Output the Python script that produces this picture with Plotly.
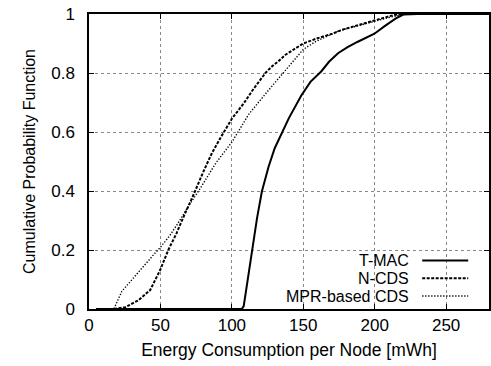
import plotly.graph_objects as go

# ---- data ----
tmac_x = [5, 107, 108.3, 111, 114, 117.6, 121, 125.7, 130, 135, 140, 148.8, 155, 162.7,
          168, 174.3, 181, 188.2, 194, 199.8, 206.7, 214.8, 220, 230, 280]
tmac_y = [0, 0, 0.01, 0.1, 0.2, 0.307, 0.398, 0.482, 0.545, 0.596, 0.648, 0.725, 0.77, 0.806,
          0.838, 0.867, 0.888, 0.906, 0.92, 0.933, 0.958, 0.985, 0.998, 1, 1]

ncds_x = [5, 17, 25.5, 34.7, 42.8, 49.8, 55.5, 61.3, 65.5, 69.4, 73.6, 80, 86, 92, 96.8, 100,
          108.3, 115, 123.5, 128, 132.6, 137.3, 145, 150, 160, 169.7, 178, 188.2, 199.8,
          213.7, 220, 280]
ncds_y = [0, 0, 0.006, 0.03, 0.064, 0.132, 0.2, 0.257, 0.305, 0.345, 0.392, 0.465, 0.528, 0.58,
          0.618, 0.645, 0.697, 0.745, 0.80, 0.822, 0.84, 0.861, 0.885, 0.90, 0.918, 0.932,
          0.948, 0.962, 0.98, 0.997, 1, 1]

mpr_x = [5, 17.4, 23, 30, 37, 46.3, 49.8, 56.7, 62.5, 69.4, 77.1, 88.7, 100.2, 111.8, 125.7,
         136, 146, 150, 158.1, 174.3, 199.8, 211.4, 222, 280]
mpr_y = [0, 0, 0.06, 0.10, 0.14, 0.19, 0.208, 0.25, 0.292, 0.347, 0.403, 0.494, 0.567, 0.66,
         0.742, 0.80, 0.86, 0.88, 0.905, 0.942, 0.975, 0.99, 1, 1]

series_names = ["T-MAC", "N-CDS", "MPR-based CDS"]
x_ticks = [0, 50, 100, 150, 200, 250]
y_ticks = [0, 0.2, 0.4, 0.6, 0.8, 1]
y_tick_text = ["0", "0.2", "0.4", "0.6", "0.8", "1"]

FONT = "Liberation Sans, Arial, Helvetica, sans-serif"

styles = [
    dict(color="black", width=2, dash="solid"),
    dict(color="black", width=2, dash="3px,1.5px"),
    dict(color="black", width=1.4, dash="1.3px,1.7px"),
]

fig = go.Figure()
for name, xs, ys, st in zip(series_names, [tmac_x, ncds_x, mpr_x], [tmac_y, ncds_y, mpr_y], styles):
    fig.add_trace(go.Scatter(x=xs, y=ys, mode="lines", name=name, line=st,
                             showlegend=False))

# legend box (opaque, covers grid) and manual legend entries
shapes = [dict(type="rect", xref="paper", yref="paper", x0=0.445, x1=1.0, y0=0.0, y1=0.193,
               fillcolor="white", line=dict(width=0), layer="between")]
annotations = []
rows_y = [0.164, 0.104, 0.044]
for name, ry, st in zip(series_names, rows_y, styles):
    annotations.append(dict(xref="paper", yref="paper", x=0.8035, y=ry, text=name,
                            showarrow=False, xanchor="right", yanchor="middle",
                            borderpad=0,
                            font=dict(family=FONT, size=16, color="black")))
    shapes.append(dict(type="line", xref="paper", yref="paper", x0=0.833, x1=0.948,
                       y0=ry, y1=ry, line=st, layer="above"))

fig.update_layout(
    width=491, height=366,
    margin=dict(l=89, r=0, t=14, b=57),
    paper_bgcolor="white", plot_bgcolor="white",
    font=dict(family=FONT, size=17, color="black"),
    shapes=shapes, annotations=annotations,
    showlegend=False,
)
fig.update_xaxes(
    range=[0, 280], tickvals=x_ticks, ticks="inside", ticklen=5, tickcolor="black",
    showline=True, linecolor="black", linewidth=1.5, mirror="allticks",
    showgrid=True, gridcolor="#888888", griddash="dot", gridwidth=1,
    zeroline=False, tickfont=dict(size=17),
    title=dict(text="Energy Consumption per Node [mWh]", font=dict(size=17.5), standoff=10),
)
fig.update_yaxes(
    range=[0, 1], tickvals=y_ticks, ticktext=y_tick_text, ticks="inside", ticklen=5,
    tickcolor="black", showline=True, linecolor="black", linewidth=1.5, mirror="allticks",
    showgrid=True, gridcolor="#888888", griddash="dot", gridwidth=1,
    zeroline=False, tickfont=dict(size=17), ticklabelstandoff=9,
    title=dict(text="Cumulative Probability Function", font=dict(size=16), standoff=12),
)

fig.write_html("out.html")
